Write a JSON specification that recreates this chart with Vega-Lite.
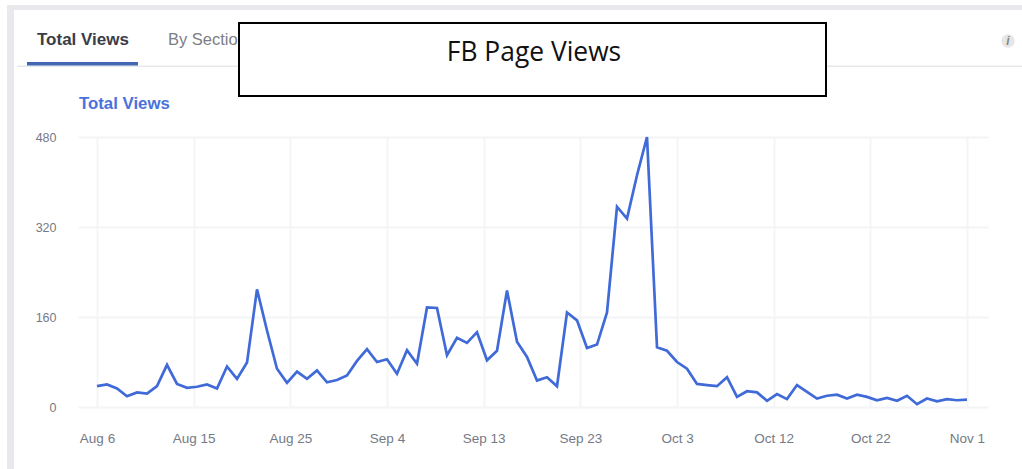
{
"$schema":"https://vega.github.io/schema/vega-lite/v6.json",
"autosize":{"type":"none"},
"width":910,"height":270,
"padding":{"left":78,"top":137,"right":34,"bottom":62},
"background":"#ffffff",
"title":{"text":"FB Page Views","anchor":"middle","frame":"group","offset":-82,"dx":1,"font":"Open Sans","fontSize":26.4,"fontWeight":"normal","color":"#111111","baseline":"alphabetic"},
"config":{"view":{"stroke":null},"font":"Liberation Sans"},
"datasets":{
"views":[
{"date":"2018-08-06","views":37},{"date":"2018-08-07","views":40},{"date":"2018-08-08","views":33},{"date":"2018-08-09","views":19},{"date":"2018-08-10","views":26},{"date":"2018-08-11","views":24},{"date":"2018-08-12","views":37},{"date":"2018-08-13","views":75},{"date":"2018-08-14","views":41},{"date":"2018-08-15","views":34},{"date":"2018-08-16","views":36},{"date":"2018-08-17","views":40},{"date":"2018-08-18","views":33},{"date":"2018-08-19","views":72},{"date":"2018-08-20","views":50},{"date":"2018-08-21","views":79},{"date":"2018-08-22","views":209},{"date":"2018-08-23","views":136},{"date":"2018-08-24","views":68},{"date":"2018-08-25","views":43},{"date":"2018-08-26","views":63},{"date":"2018-08-27","views":50},{"date":"2018-08-28","views":65},{"date":"2018-08-29","views":44},{"date":"2018-08-30","views":48},{"date":"2018-08-31","views":56},
{"date":"2018-09-01","views":82},{"date":"2018-09-02","views":103},{"date":"2018-09-03","views":80},{"date":"2018-09-04","views":85},{"date":"2018-09-05","views":59},{"date":"2018-09-06","views":101},{"date":"2018-09-07","views":77},{"date":"2018-09-08","views":177},{"date":"2018-09-09","views":176},{"date":"2018-09-10","views":92},{"date":"2018-09-11","views":123},{"date":"2018-09-12","views":114},{"date":"2018-09-13","views":133},{"date":"2018-09-14","views":83},{"date":"2018-09-15","views":100},{"date":"2018-09-16","views":207},{"date":"2018-09-17","views":116},{"date":"2018-09-18","views":89},{"date":"2018-09-19","views":47},{"date":"2018-09-20","views":53},{"date":"2018-09-21","views":37},{"date":"2018-09-22","views":168},{"date":"2018-09-23","views":154},{"date":"2018-09-24","views":105},{"date":"2018-09-25","views":111},{"date":"2018-09-26","views":168},{"date":"2018-09-27","views":356},{"date":"2018-09-28","views":335},{"date":"2018-09-29","views":412},{"date":"2018-09-30","views":480},
{"date":"2018-10-01","views":106},{"date":"2018-10-02","views":100},{"date":"2018-10-03","views":80},{"date":"2018-10-04","views":68},{"date":"2018-10-05","views":41},{"date":"2018-10-06","views":39},{"date":"2018-10-07","views":37},{"date":"2018-10-08","views":53},{"date":"2018-10-09","views":18},{"date":"2018-10-10","views":28},{"date":"2018-10-11","views":26},{"date":"2018-10-12","views":11},{"date":"2018-10-13","views":23},{"date":"2018-10-14","views":14},{"date":"2018-10-15","views":39},{"date":"2018-10-16","views":27},{"date":"2018-10-17","views":15},{"date":"2018-10-18","views":20},{"date":"2018-10-19","views":22},{"date":"2018-10-20","views":15},{"date":"2018-10-21","views":22},{"date":"2018-10-22","views":18},{"date":"2018-10-23","views":12},{"date":"2018-10-24","views":16},{"date":"2018-10-25","views":11},{"date":"2018-10-26","views":20},{"date":"2018-10-27","views":5},{"date":"2018-10-28","views":15},{"date":"2018-10-29","views":10},{"date":"2018-10-30","views":14},{"date":"2018-10-31","views":12},{"date":"2018-11-01","views":13}
]
},
"layer":[
{"data":{"name":"views"},
"mark":{"type":"line","color":"#3f6ad8","strokeWidth":2.7,"strokeJoin":"miter","clip":false},
"encoding":{
"x":{"field":"date","type":"temporal","title":null,"scale":{"type":"utc","domain":[{"year":2018,"month":8,"date":4,"hours":2,"minutes":24,"utc":true},{"year":2018,"month":11,"date":3,"hours":2,"minutes":24,"utc":true}]},
"axis":{"title":null,"values":[{"year":2018,"month":8,"date":6,"utc":true},{"year":2018,"month":8,"date":15,"hours":16,"utc":true},{"year":2018,"month":8,"date":25,"hours":8,"utc":true},{"year":2018,"month":9,"date":4,"utc":true},{"year":2018,"month":9,"date":13,"hours":16,"utc":true},{"year":2018,"month":9,"date":23,"hours":8,"utc":true},{"year":2018,"month":10,"date":3,"utc":true},{"year":2018,"month":10,"date":12,"hours":16,"utc":true},{"year":2018,"month":10,"date":22,"hours":8,"utc":true},{"year":2018,"month":11,"date":1,"utc":true}],
"format":"%b %-d","grid":true,"gridColor":"#f4f5f6","gridWidth":2,"domain":false,"ticks":false,"labelPadding":24,"labelFontSize":13.5,"labelColor":"#747a85","labelFont":"Liberation Sans","labelAngle":0,"labelOverlap":false,"labelFlush":false}},
"y":{"field":"views","type":"quantitative","title":null,"scale":{"domain":[0,480],"nice":false},
"axis":{"title":null,"values":[0,160,320,480],"grid":true,"gridColor":"#f3f4f5","gridWidth":2,"domain":false,"ticks":false,"labelPadding":22,"labelFontSize":12.5,"labelColor":"#747a85","labelFont":"Liberation Sans"}}}},
{"data":{"values":[
{"a":"2018-07-28T00:00:00Z","b":"2018-11-06T12:00:00Z","top":714.7,"bottom":705.8},
{"a":"2018-07-28T00:00:00Z","b":"2018-07-28T16:48:00Z","top":714.7,"bottom":-110},
{"a":"2018-07-29T00:00:00Z","b":"2018-11-06T12:00:00Z","top":607.1,"bottom":604.4}
]},
"mark":{"type":"rect","fill":"#e8e9ed","clip":false},
"encoding":{
"x":{"field":"a","type":"temporal"},
"x2":{"field":"b"},
"y":{"field":"top","type":"quantitative"},
"y2":{"field":"bottom"}}},
{"data":{"values":[{"a":"2018-07-31T00:00:00Z","v":652.4,"label":"Total Views"}]},
"mark":{"type":"text","align":"left","baseline":"middle","fontWeight":"bold","fontSize":17,"color":"#3a3d47","clip":false},
"encoding":{"x":{"field":"a","type":"temporal"},"y":{"field":"v","type":"quantitative"},"text":{"field":"label"}}},
{"data":{"values":[{"a":"2018-08-13T02:24:00Z","v":652.4,"label":"By Section"}]},
"mark":{"type":"text","align":"left","baseline":"middle","fontSize":16.5,"color":"#7b7e85","clip":false},
"encoding":{"x":{"field":"a","type":"temporal"},"y":{"field":"v","type":"quantitative"},"text":{"field":"label"}}},
{"data":{"values":[{"a":"2018-08-04T04:48:00Z","v":538.6,"label":"Total Views"}]},
"mark":{"type":"text","align":"left","baseline":"middle","fontWeight":"bold","fontSize":16.8,"color":"#4a72dc","clip":false},
"encoding":{"x":{"field":"a","type":"temporal"},"y":{"field":"v","type":"quantitative"},"text":{"field":"label"}}},
{"data":{"values":[{"a":"2018-07-30T00:00:00Z","b":"2018-08-10T02:24:00Z","top":613.3,"bottom":607.1}]},
"mark":{"type":"rect","fill":"#4267b2","clip":false},
"encoding":{"x":{"field":"a","type":"temporal"},"x2":{"field":"b"},"y":{"field":"top","type":"quantitative"},"y2":{"field":"bottom"}}},
{"data":{"values":[{"a":"2018-08-20T04:48:00Z","b":"2018-10-17T21:36:00Z","top":682.7,"bottom":552.9}]},
"mark":{"type":"rect","fill":"#ffffff","stroke":"#000000","strokeWidth":2,"clip":false},
"encoding":{"x":{"field":"a","type":"temporal"},"x2":{"field":"b"},"y":{"field":"top","type":"quantitative"},"y2":{"field":"bottom"}}},
{"data":{"values":[{"a":"2018-11-05T02:24:00Z","v":650.7}]},
"mark":{"type":"point","filled":true,"shape":"circle","size":180,"color":"#e6e6e6","opacity":1,"clip":false},
"encoding":{"x":{"field":"a","type":"temporal"},"y":{"field":"v","type":"quantitative"}}},
{"data":{"values":[{"a":"2018-11-05T02:24:00Z","v":650.7,"label":"i"}]},
"mark":{"type":"text","align":"center","baseline":"middle","fontSize":12,"fontWeight":"bold","fontStyle":"italic","color":"#858585","clip":false},
"encoding":{"x":{"field":"a","type":"temporal"},"y":{"field":"v","type":"quantitative"},"text":{"field":"label"}}}
]
}
